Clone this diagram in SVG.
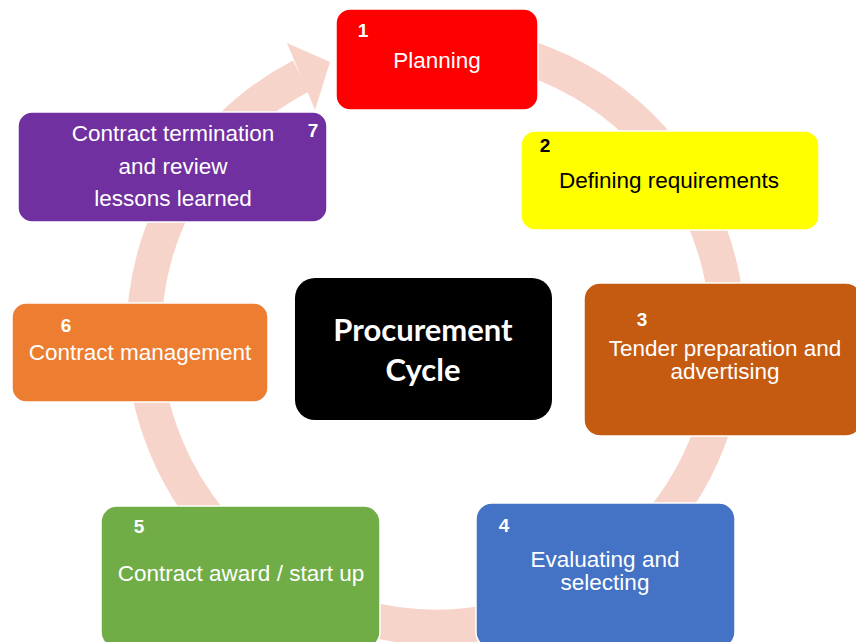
<svg xmlns="http://www.w3.org/2000/svg" width="856" height="642" viewBox="0 0 856 642">
<style>
.box{stroke:#ffffff;stroke-width:1.5}
.t{font-family:"Liberation Sans",Arial,sans-serif;font-size:22.5px;fill:#ffffff;text-anchor:middle}
.n{font-family:"Liberation Sans",Arial,sans-serif;font-size:19px;font-weight:bold;fill:#ffffff;text-anchor:middle}
.dark{fill:#000000}
.c{font-family:Lato,"Open Sans",sans-serif;font-size:31px;font-weight:bold;fill:#ffffff;text-anchor:middle}
</style>
<rect width="856" height="642" fill="#ffffff"/>
<g id="connectors">
<path d="M 436 43 A 292 292 0 1 1 301 76" fill="none" stroke="#F7D4CA" stroke-width="35"/>
<polygon points="287,43 330,62 315,110" fill="#F7D4CA"/>
</g>
<g id="n1">
<rect class="box" x="336" y="9" width="202" height="101" rx="14" fill="#FF0000"/>
<text class="n" x="363" y="37">1</text>
<text class="t" x="437" y="68">Planning</text>
</g>
<g id="n2">
<rect class="box" x="521" y="131" width="298" height="99" rx="14" fill="#FFFF00"/>
<text class="n dark" x="545" y="152">2</text>
<text class="t dark" x="669" y="188">Defining requirements</text>
</g>
<g id="n3">
<rect class="box" x="584" y="283" width="278" height="153" rx="16" fill="#C55A11"/>
<text class="n" x="642" y="326">3</text>
<text class="t" x="725" y="356">Tender preparation and</text>
<text class="t" x="725" y="379">advertising</text>
</g>
<g id="n4">
<rect class="box" x="476" y="503" width="259" height="145" rx="16" fill="#4472C4"/>
<text class="n" x="504" y="532">4</text>
<text class="t" x="605" y="567">Evaluating and</text>
<text class="t" x="605" y="590">selecting</text>
</g>
<g id="n5">
<rect class="box" x="101" y="506" width="279" height="142" rx="16" fill="#70AD47"/>
<text class="n" x="139" y="533">5</text>
<text class="t" x="241" y="581">Contract award / start up</text>
</g>
<g id="n6">
<rect class="box" x="12" y="303" width="256" height="99" rx="14" fill="#ED7D31"/>
<text class="n" x="66" y="332">6</text>
<text class="t" x="140" y="360">Contract management</text>
</g>
<g id="n7">
<rect class="box" x="18" y="112" width="309" height="110" rx="14" fill="#7030A0"/>
<text class="n" x="313" y="137">7</text>
<text class="t" x="173" y="141">Contract termination</text>
<text class="t" x="173" y="174">and review</text>
<text class="t" x="173" y="206">lessons learned</text>
</g>
<g id="center">
<rect x="295" y="278" width="257" height="142" rx="20" fill="#000000"/>
<text class="c" x="423" y="341">Procurement</text>
<text class="c" x="423" y="381">Cycle</text>
</g>
</svg>
